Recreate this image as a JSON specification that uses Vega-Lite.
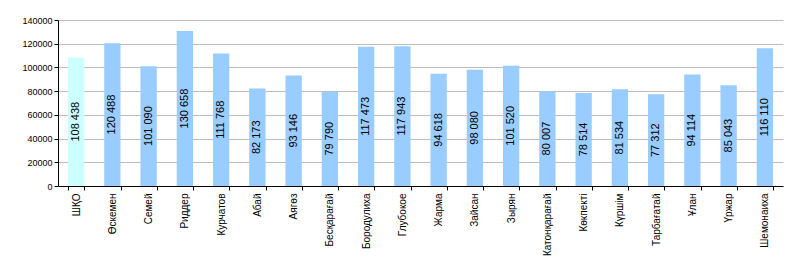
{
  "$schema": "https://vega.github.io/schema/vega-lite/v6.json",
  "autosize": "none",
  "width": 725,
  "height": 166,
  "padding": {"left": 58, "top": 20, "right": 17, "bottom": 84},
  "background": "white",
  "config": {
    "locale": {"number": {"decimal": ",", "thousands": " ", "grouping": [3], "currency": ["", ""]}},
    "view": {"stroke": null},
    "font": "Liberation Sans"
  },
  "data": {
    "values": [
      {"region": "ШҚО", "value": 108438, "kind": "total"},
      {"region": "Өскемен", "value": 120488, "kind": "r"},
      {"region": "Семей", "value": 101090, "kind": "r"},
      {"region": "Риддер", "value": 130658, "kind": "r"},
      {"region": "Курчатов", "value": 111768, "kind": "r"},
      {"region": "Абай", "value": 82173, "kind": "r"},
      {"region": "Аягөз", "value": 93146, "kind": "r"},
      {"region": "Бесқарағай", "value": 79790, "kind": "r"},
      {"region": "Бородулиха", "value": 117473, "kind": "r"},
      {"region": "Глубокое", "value": 117943, "kind": "r"},
      {"region": "Жарма", "value": 94618, "kind": "r"},
      {"region": "Зайсан", "value": 98080, "kind": "r"},
      {"region": "Зырян", "value": 101520, "kind": "r"},
      {"region": "Катонқарағай", "value": 80007, "kind": "r"},
      {"region": "Көкпекті", "value": 78514, "kind": "r"},
      {"region": "Күршім", "value": 81534, "kind": "r"},
      {"region": "Тарбағатай", "value": 77312, "kind": "r"},
      {"region": "Ұлан", "value": 94114, "kind": "r"},
      {"region": "Үржар", "value": 85043, "kind": "r"},
      {"region": "Шемонаиха", "value": 116110, "kind": "r"}
    ]
  },
  "encoding": {
    "x": {
      "field": "region", "type": "nominal", "sort": null,
      "scale": {"paddingInner": 0.55, "paddingOuter": 0.275},
      "axis": {
        "title": null, "labelAngle": -90, "labelFontSize": 10, "labelColor": "black",
        "domainColor": "black", "tickColor": "black", "tickSize": 4, "tickBand": "extent",
        "labelPadding": 3, "labelAlign": "right", "labelBaseline": "middle", "labelOverlap": false
      }
    }
  },
  "layer": [
    {
      "mark": {"type": "bar"},
      "encoding": {
        "y": {
          "field": "value", "type": "quantitative",
          "scale": {"domain": [0, 140000], "nice": false},
          "axis": {
            "title": null, "values": [0, 20000, 40000, 60000, 80000, 100000, 120000, 140000],
            "format": "d", "labelFontSize": 9, "labelColor": "black", "labelOverlap": false,
            "domainColor": "black", "tickColor": "black", "tickSize": 4,
            "gridColor": "#bdbdbd", "gridWidth": 1.2, "labelPadding": 2
          }
        },
        "color": {
          "field": "kind", "type": "nominal", "legend": null,
          "scale": {"domain": ["total", "r"], "range": ["#ccffff", "#99ccff"]}
        }
      }
    },
    {
      "transform": [{"calculate": "datum.value / 2", "as": "mid"}],
      "mark": {"type": "text", "angle": 270, "fontSize": 11, "color": "black", "align": "center", "baseline": "middle"},
      "encoding": {
        "y": {
          "field": "mid", "type": "quantitative",
          "scale": {"domain": [0, 140000], "nice": false},
          "axis": {
            "title": null, "values": [0, 20000, 40000, 60000, 80000, 100000, 120000, 140000],
            "format": "d", "labelFontSize": 9, "labelColor": "black", "labelOverlap": false,
            "domainColor": "black", "tickColor": "black", "tickSize": 4,
            "gridColor": "#bdbdbd", "gridWidth": 1.2, "labelPadding": 2
          }
        },
        "text": {"field": "value", "type": "quantitative", "format": ",d"}
      }
    }
  ]
}
